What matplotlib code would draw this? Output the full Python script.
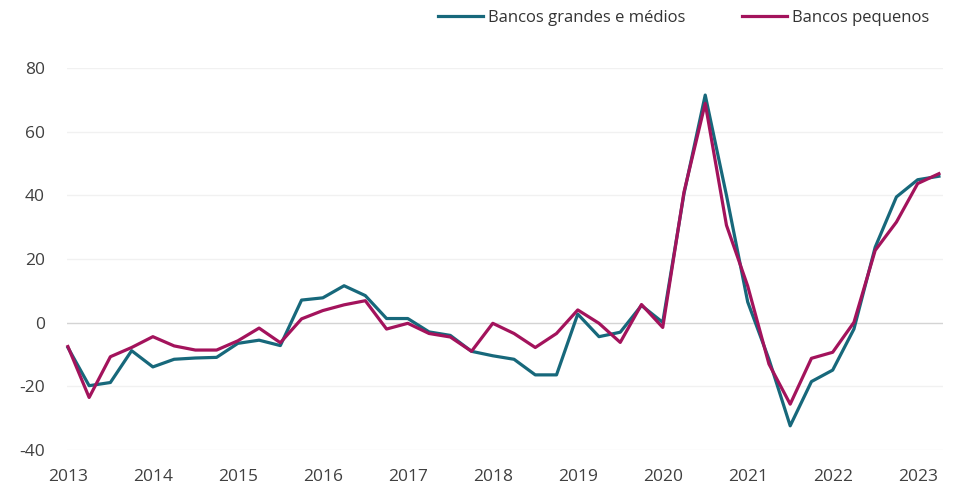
import numpy as np
import matplotlib
matplotlib.use("Agg")
import matplotlib.pyplot as plt

plt.rcParams['font.family'] = ['Open Sans', 'DejaVu Sans']
plt.rcParams['axes.unicode_minus'] = False

# quarterly, 2013Q1 .. 2023Q2
years = np.arange(2013, 2024)
quarters = 2013 + np.arange(42) / 4.0

grandes = [-7.8, -19.8, -18.8, -8.8, -13.9, -11.5, -11.1, -10.9, -6.5, -5.5,
           -7.2, 7.1, 7.8, 11.6, 8.5, 1.3, 1.3, -2.9, -4.0, -9.0,
           -10.4, -11.5, -16.4, -16.4, 2.7, -4.4, -3.0, 5.4, 0.1, 40.5,
           71.5, 40.0, 6.5, -11.5, -32.4, -18.5, -14.9, -2.0, 23.7, 39.5,
           44.9, 46.0]
pequenos = [-7.5, -23.5, -10.7, -7.8, -4.4, -7.3, -8.6, -8.6, -5.7, -1.7,
            -6.3, 1.2, 3.8, 5.6, 6.9, -2.0, -0.2, -3.4, -4.5, -9.0,
            -0.2, -3.4, -7.8, -3.4, 4.0, -0.2, -6.2, 5.7, -1.5, 41.0,
            68.9, 30.6, 11.5, -13.0, -25.6, -11.2, -9.3, 0.1, 22.7, 31.6,
            43.7, 46.8]
yticks = [-40, -20, 0, 20, 40, 60, 80]

c_blue = '#17687b'
c_red = '#a3135c'

fig = plt.figure(figsize=(9.55, 4.91), dpi=100)
ax = fig.add_axes([0.0702, 0.0835, 0.9174, 0.778])

for y in yticks:
    if y == 0:
        ax.axhline(y, color='#d4d4d4', lw=1.0, zorder=1)
    else:
        ax.axhline(y, color='#f1f1f1', lw=1.0, zorder=1)

ax.plot(quarters, grandes, color=c_blue, lw=2.3, label='Bancos grandes e médios', zorder=3, clip_on=False)
ax.plot(quarters, pequenos, color=c_red, lw=2.3, label='Bancos pequenos', zorder=4, clip_on=False)

ax.set_xlim(2012.99, 2023.30)
ax.set_ylim(-40, 80)
ax.set_xticks(years)
ax.set_xticklabels([str(y) for y in years])
ax.set_yticks(yticks)
ax.tick_params(axis='both', length=0, labelsize=12.5, labelcolor='#404040')
ax.tick_params(axis='x', pad=14)
ax.tick_params(axis='y', pad=16)
for s in ax.spines.values():
    s.set_visible(False)

fig.legend(loc='center', bbox_to_anchor=(0.716, 0.963), ncol=2, frameon=False,
           fontsize=12, handlelength=2.7, handletextpad=0.3, columnspacing=3.4,
           labelcolor='#333333')

fig.savefig('out.png', dpi=100)
